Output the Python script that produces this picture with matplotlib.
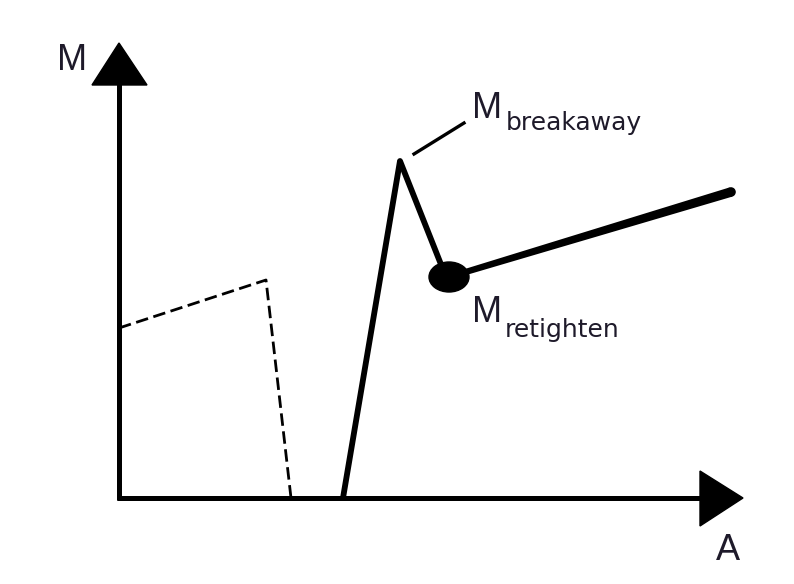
import numpy as np
import matplotlib.pyplot as plt
from matplotlib.patches import Polygon, Ellipse

# schematic coordinates: origin at the axis corner, y up
prev_x = [0, 147, 172]
prev_y = [170, 218, 0]

rise_x = [224, 281]
rise_y = [0, 337]
drop_x = [281, 325]
drop_y = [337, 226]
tail_x = [330, 612]
tail_y = [221, 306]

plt.rcParams['font.family'] = ['Liberation Sans', 'DejaVu Sans']
txt = '#1e1a2a'

fig = plt.figure(figsize=(7.94, 5.84), dpi=100)
ax = fig.add_axes([0, 0, 1, 1])
ax.set_xlim(-119, 675)
ax.set_ylim(-86, 498)
ax.axis('off')

# axes with arrow heads
ax.plot([0, 0], [-2, 414], color='black', lw=3.6, solid_capstyle='butt')
ax.plot([-2, 582], [0, 0], color='black', lw=3.6, solid_capstyle='butt')
ax.add_patch(Polygon([[-27, 413], [28, 413], [0, 455]], closed=True, color='black'))
ax.add_patch(Polygon([[581, 27], [581, -28], [624, 0]], closed=True, color='black'))

# previous tightening (dashed)
ax.plot(prev_x, prev_y, color='black', lw=2, ls=(0, (4.5, 2)))

# retightening curve
ax.plot(rise_x, rise_y, color='black', lw=4.2, solid_capstyle='butt')
ax.plot(drop_x, drop_y, color='black', lw=4.2, solid_capstyle='round')

# tail gets a bit thicker toward its end (1 data unit = 1 px here)
p0 = np.array([tail_x[0], tail_y[0]], float)
p1 = np.array([tail_x[1], tail_y[1]], float)
d = (p1 - p0) / np.linalg.norm(p1 - p0)
n = np.array([-d[1], d[0]])
w0, w1 = 3.0, 4.8
ax.add_patch(Polygon([p0 + n * w0, p1 + n * w1, p1 - n * w1, p0 - n * w0],
                     closed=True, color='black', lw=0))
ax.add_patch(Ellipse(tuple(p1), 2 * w1, 2 * w1, color='black', lw=0))
ax.add_patch(Ellipse(tuple(p0), 40, 30, color='black'))

# leader to breakaway label
ax.plot([295, 345], [344, 375], color='black', lw=2.4)

ax.text(-47, 437, 'M', fontsize=26, color=txt, ha='center', va='center')
ax.text(609, -52, 'A', fontsize=26, color=txt, ha='center', va='center')

ax.text(353, 380, 'M', fontsize=26, color=txt, ha='left', va='baseline')
ax.text(387, 368, 'breakaway', fontsize=18, family='DejaVu Sans', color=txt,
        ha='left', va='baseline')
ax.text(353, 176, 'M', fontsize=26, color=txt, ha='left', va='baseline')
ax.text(386, 161, 'retighten', fontsize=18, family='DejaVu Sans', color=txt,
        ha='left', va='baseline')

fig.savefig('out.png', dpi=100, facecolor='white')
